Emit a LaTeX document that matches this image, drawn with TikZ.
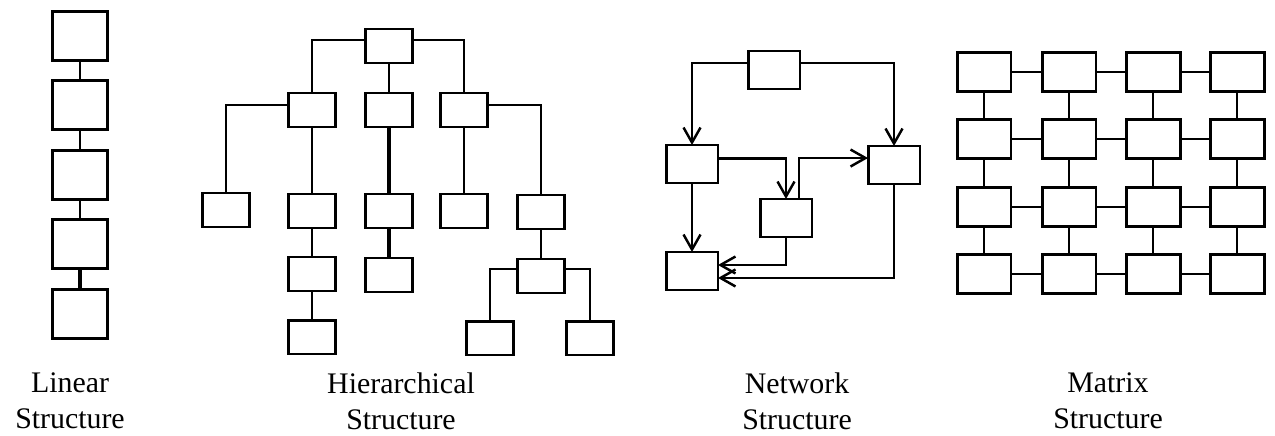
\documentclass[tikz,border=0pt]{standalone}
\usepackage{fontspec}
\setmainfont{Liberation Serif}
\usetikzlibrary{arrows.meta}

\tikzset{
  blk/.style={draw, line width=1.7pt, inner sep=0pt, outer sep=0pt},
  linbox/.style={blk, minimum width=1.1cm, minimum height=0.98cm},
  hiebox/.style={blk, minimum width=0.94cm, minimum height=0.68cm},
  netbox/.style={blk, minimum width=1.04cm, minimum height=0.76cm},
  matbox/.style={blk, minimum width=1.08cm, minimum height=0.78cm},
  link/.style={line width=1.2pt},
  flow/.style={line width=1.4pt, -{Straight Barb[length=3mm,width=3.4mm]}},
  caption/.style={align=center, font=\fontsize{17}{20.4}\selectfont}
}

\begin{document}
\begin{tikzpicture}[x=0.02cm, y=-0.02cm]
  \useasboundingbox (0,0) rectangle (1275,436);

  % Linear: one column of boxes
  \node[linbox] (lin1) at (80,36) {};
  \node[linbox] (lin2) at (80,105) {};
  \node[linbox] (lin3) at (80,175) {};
  \node[linbox] (lin4) at (80,244) {};
  \node[linbox] (lin5) at (80,314) {};
  \draw[link] (lin1) -- (lin2);
  \draw[link] (lin2) -- (lin3);
  \draw[link] (lin3) -- (lin4);
  \draw[line width=1.8pt] (lin4) -- (lin5);
  \node[caption] (lincap) at (70,401) {Linear\\Structure};

  % Hierarchical: the tree
  \node[hiebox] (root) at (389,46) {};
  \node[hiebox] (hA) at (312,110) {};
  \node[hiebox] (hB) at (389,110) {};
  \node[hiebox] (hC) at (464,110) {};
  \node[hiebox] (hD) at (226,210) {};
  \node[hiebox] (hE) at (312,211) {};
  \node[hiebox] (hH) at (389,211) {};
  \node[hiebox] (hJ) at (464,211) {};
  \node[hiebox] (hK) at (541,212) {};
  \node[hiebox] (hF) at (312,274) {};
  \node[hiebox] (hI) at (389,275) {};
  \node[hiebox] (hL) at (541,276) {};
  \node[hiebox] (hG) at (312,337) {};
  \node[hiebox] (hM) at (490,338) {};
  \node[hiebox] (hN) at (590,338) {};

  \draw[link] (root.165) -| (hA.north);
  \draw[link] (root) -- (hB);
  \draw[link] (root.15) -| (hC.north);
  \draw[link] (hA.168) -| (hD.north);
  \draw[link] (hA) -- (hE);
  \draw[link] (hE) -- (hF);
  \draw[link] (hF) -- (hG);
  \draw[line width=1.8pt] (hB) -- (hH);
  \draw[line width=1.8pt] (hH) -- (hI);
  \draw[link] (hC) -- (hJ);
  \draw[link] (hC.11) -| (hK.north);
  \draw[link] (hK) -- (hL);
  \draw[link] (hL.163) -| (hM.north);
  \draw[link] (hL.17) -| (hN.north);
  \node[caption] (hiecap) at (401,401) {Hierarchical\\Structure};

  % Network: boxes with arrows
  \node[netbox] (ntop) at (774,70) {};
  \node[netbox] (nleft) at (692,164) {};
  \node[netbox] (nright) at (894,165) {};
  \node[netbox] (nmid) at (786,218) {};
  \node[netbox] (nbot) at (692,271) {};

  \draw[flow] (ntop.165) -| (nleft.north);
  \draw[flow] (ntop.15) -| (nright.north);
  \draw[flow] (nleft.12) -| (nmid.north);
  \draw[flow] (nmid.56) |- (nright.165);
  \draw[flow] (nleft) -- (nbot);
  \draw[flow] (nmid.south) |- (nbot.13);
  \draw[flow] (nright.south) |- (nbot.-15);
  \node[caption] (netcap) at (797,401) {Network\\Structure};

  % Matrix: 4 x 4 grid
  \foreach \c/\x in {1/984,2/1069,3/1153,4/1237}
    \foreach \r/\y in {1/72,2/139,3/207,4/274}
      \node[matbox] (mat-\r-\c) at (\x,\y) {};
  \foreach \a/\b in {1/2,2/3,3/4}
    \foreach \k in {1,2,3,4} {
      \draw[link] (mat-\k-\a) -- (mat-\k-\b);
      \draw[link] (mat-\a-\k) -- (mat-\b-\k);
    }
  \node[caption] (matcap) at (1108,401) {Matrix\\Structure};
\end{tikzpicture}
\end{document}
